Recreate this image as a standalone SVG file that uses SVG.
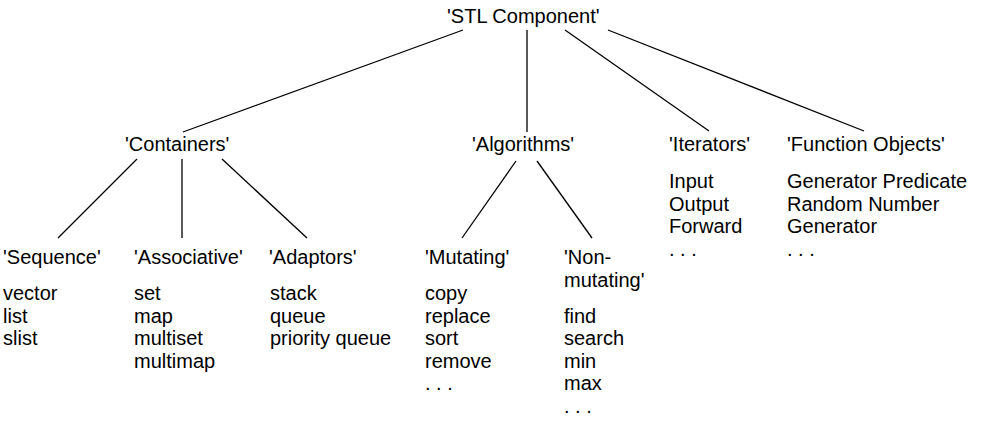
<svg xmlns="http://www.w3.org/2000/svg" width="981" height="423" viewBox="0 0 981 423">
<style>
text{font-family:"Liberation Sans",Arial,Helvetica,sans-serif;font-size:20px;fill:#000}
.c line{stroke:#000;stroke-width:1.3;fill:none}
</style>
<rect width="981" height="423" fill="#fff"/>
<g class="c" id="connectors">
<line x1="463" y1="30" x2="183" y2="132"/>
<line x1="527" y1="30" x2="527" y2="132"/>
<line x1="565" y1="30" x2="709" y2="131"/>
<line x1="608" y1="30" x2="864" y2="131"/>
<line x1="137" y1="159" x2="58" y2="238"/>
<line x1="182" y1="159" x2="182" y2="238"/>
<line x1="222" y1="159" x2="307" y2="238"/>
<line x1="516" y1="161" x2="462" y2="238"/>
<line x1="537" y1="161" x2="592" y2="238"/>
</g>
<g id="stl"><text x="447" y="23">'STL Component'</text></g>
<g id="containers"><text x="125" y="151">'Containers'</text></g>
<g id="algorithms"><text x="472" y="151">'Algorithms'</text></g>
<g id="iterators"><text x="669" y="151">'Iterators'</text>
<text x="669" y="188">Input</text><text x="669" y="210.5">Output</text><text x="669" y="233">Forward</text><text x="669" y="255.5">. . .</text></g>
<g id="function"><text x="787" y="151">'Function Objects'</text>
<text x="787" y="188">Generator Predicate</text><text x="787" y="210.5">Random Number</text><text x="787" y="233">Generator</text><text x="787" y="255.5">. . .</text></g>
<g id="sequence"><text x="3" y="264">'Sequence'</text>
<text x="3" y="300">vector</text><text x="3" y="322.5">list</text><text x="3" y="345">slist</text></g>
<g id="associative"><text x="134" y="264">'Associative'</text>
<text x="134" y="300">set</text><text x="134" y="322.5">map</text><text x="134" y="345">multiset</text><text x="134" y="367.5">multimap</text></g>
<g id="adaptors"><text x="269" y="264">'Adaptors'</text>
<text x="270" y="300">stack</text><text x="270" y="322.5">queue</text><text x="270" y="345">priority queue</text></g>
<g id="mutating"><text x="425" y="264">'Mutating'</text>
<text x="425" y="300">copy</text><text x="425" y="322.5">replace</text><text x="425" y="345">sort</text><text x="425" y="367.5">remove</text><text x="425" y="390">. . .</text></g>
<g id="nonmutating"><text x="564" y="264">'Non-</text><text x="564" y="286.5">mutating'</text>
<text x="564" y="322.5">find</text><text x="564" y="345">search</text><text x="564" y="367.5">min</text><text x="564" y="390">max</text><text x="564" y="412.5">. . .</text></g>
</svg>
